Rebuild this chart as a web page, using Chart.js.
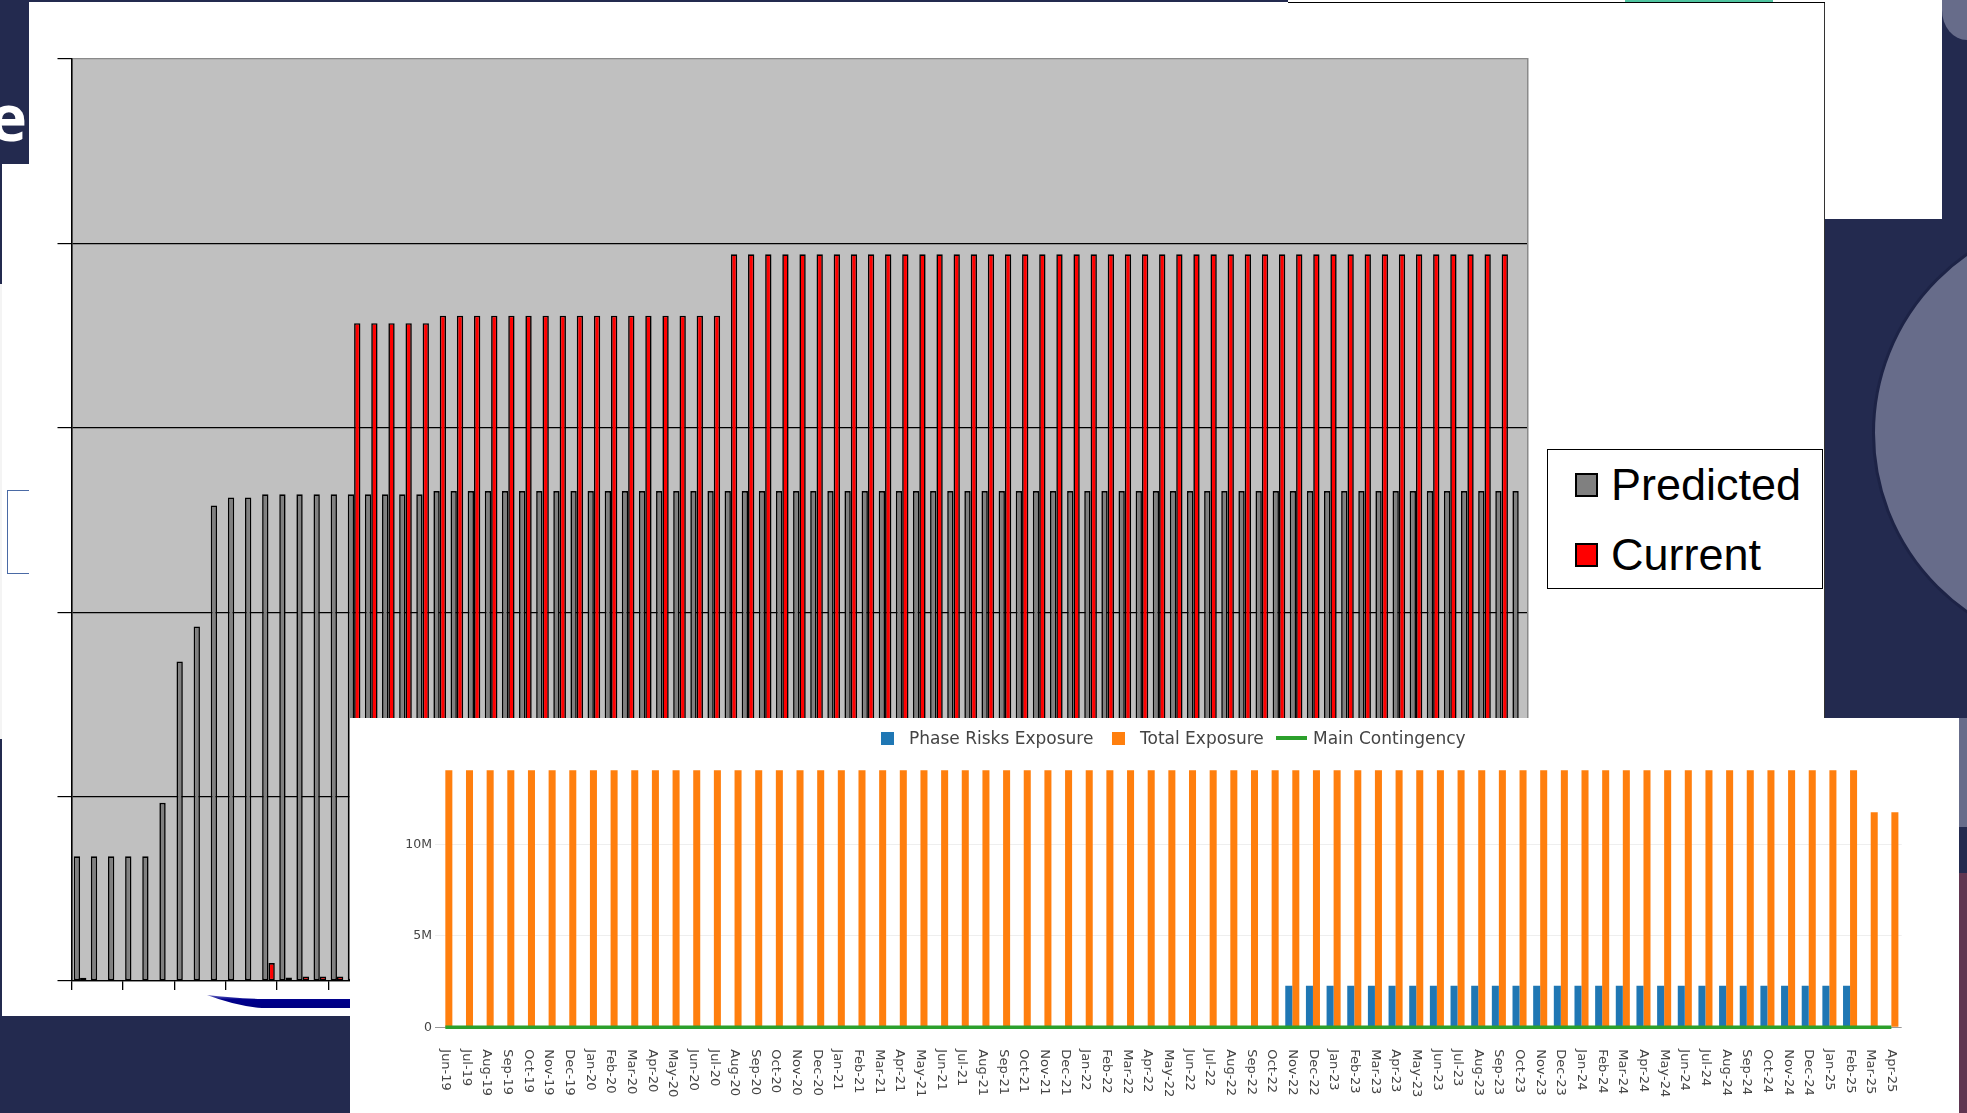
<!DOCTYPE html>
<html>
<head>
<meta charset="utf-8">
<script src="https://cdn.jsdelivr.net/npm/chart.js@4.4.1/dist/chart.umd.min.js"></script>
<style>
  html, body { margin: 0; padding: 0; }
  body { width: 1967px; height: 1113px; background: #232a4f; position: relative; overflow: hidden; }
  .abs { position: absolute; }
</style>
</head>
<body>
<script>
// ---------------- DATA ----------------
// Chart 1 (Predicted vs Current) – no visible category or value labels
const periods = ['P1','P2','P3','P4','P5','P6','P7','P8','P9','P10','P11','P12','P13','P14','P15','P16','P17','P18','P19','P20',
  'P21','P22','P23','P24','P25','P26','P27','P28','P29','P30','P31','P32','P33','P34','P35','P36','P37','P38','P39','P40',
  'P41','P42','P43','P44','P45','P46','P47','P48','P49','P50','P51','P52','P53','P54','P55','P56','P57','P58','P59','P60',
  'P61','P62','P63','P64','P65','P66','P67','P68','P69','P70','P71','P72','P73','P74','P75','P76','P77','P78','P79','P80',
  'P81','P82','P83','P84','P85'];
const predicted = [0.676,0.676,0.676,0.676,0.676,0.966,1.733,1.923,2.579,2.622,2.622,
  2.639,2.639,2.639,2.639,2.639,2.639,2.639,2.639,2.639,2.639,
  2.657,2.657,2.657,2.657,2.657,2.657,2.657,2.657,
  2.657,2.657,2.657,2.657,2.657,2.657,2.657,2.657,
  2.657,2.657,2.657,2.657,2.657,2.657,2.657,2.657,
  2.657,2.657,2.657,2.657,2.657,2.657,2.657,2.657,
  2.657,2.657,2.657,2.657,2.657,2.657,2.657,2.657,
  2.657,2.657,2.657,2.657,2.657,2.657,2.657,2.657,
  2.657,2.657,2.657,2.657,2.657,2.657,2.657,2.657,
  2.657,2.657,2.657,2.657,2.657,2.657,2.657,2.657];
const current = [0.017,null,null,null,null,null,null,null,null,null,null,
  0.097,0.019,0.025,0.025,0.025,
  3.567,3.567,3.567,3.567,3.567,
  3.608,3.608,3.608,3.608,3.608,3.608,3.608,3.608,3.608,3.608,3.608,3.608,3.608,3.608,3.608,3.608,3.608,
  3.941,3.941,3.941,3.941,3.941,3.941,3.941,3.941,3.941,3.941,
  3.941,3.941,3.941,3.941,3.941,3.941,3.941,3.941,3.941,3.941,
  3.941,3.941,3.941,3.941,3.941,3.941,3.941,3.941,3.941,3.941,
  3.941,3.941,3.941,3.941,3.941,3.941,3.941,3.941,3.941,3.941,
  3.941,3.941,3.941,3.941,3.941,3.941,
  null];
const chart1Legend = ['Predicted', 'Current'];

// Chart 2 (exposure over months)
const months = ['Jun-19','Jul-19','Aug-19','Sep-19','Oct-19','Nov-19','Dec-19',
  'Jan-20','Feb-20','Mar-20','Apr-20','May-20','Jun-20','Jul-20','Aug-20','Sep-20','Oct-20','Nov-20','Dec-20',
  'Jan-21','Feb-21','Mar-21','Apr-21','May-21','Jun-21','Jul-21','Aug-21','Sep-21','Oct-21','Nov-21','Dec-21',
  'Jan-22','Feb-22','Mar-22','Apr-22','May-22','Jun-22','Jul-22','Aug-22','Sep-22','Oct-22','Nov-22','Dec-22',
  'Jan-23','Feb-23','Mar-23','Apr-23','May-23','Jun-23','Jul-23','Aug-23','Sep-23','Oct-23','Nov-23','Dec-23',
  'Jan-24','Feb-24','Mar-24','Apr-24','May-24','Jun-24','Jul-24','Aug-24','Sep-24','Oct-24','Nov-24','Dec-24',
  'Jan-25','Feb-25','Mar-25','Apr-25'];
const phaseRisksExposure = [0,0,0,0,0,0,0,
  0,0,0,0,0,0,0,0,0,0,0,0,
  0,0,0,0,0,0,0,0,0,0,0,0,
  0,0,0,0,0,0,0,0,0,0,2280000,2280000,
  2280000,2280000,2280000,2280000,2280000,2280000,2280000,2280000,2280000,2280000,2280000,2280000,
  2280000,2280000,2280000,2280000,2280000,2280000,2280000,2280000,2280000,2280000,2280000,2280000,
  2280000,2280000,0,0];
const totalExposure = [14080000,14080000,14080000,14080000,14080000,14080000,14080000,
  14080000,14080000,14080000,14080000,14080000,14080000,14080000,14080000,14080000,14080000,14080000,14080000,
  14080000,14080000,14080000,14080000,14080000,14080000,14080000,14080000,14080000,14080000,14080000,14080000,
  14080000,14080000,14080000,14080000,14080000,14080000,14080000,14080000,14080000,14080000,14080000,14080000,
  14080000,14080000,14080000,14080000,14080000,14080000,14080000,14080000,14080000,14080000,14080000,14080000,
  14080000,14080000,14080000,14080000,14080000,14080000,14080000,14080000,14080000,14080000,14080000,14080000,
  14080000,14080000,11770000,11770000];
const mainContingency = [0,0,0,0,0,0,0,
  0,0,0,0,0,0,0,0,0,0,0,0,
  0,0,0,0,0,0,0,0,0,0,0,0,
  0,0,0,0,0,0,0,0,0,0,0,0,
  0,0,0,0,0,0,0,0,0,0,0,0,
  0,0,0,0,0,0,0,0,0,0,0,0,
  0,0,0,0];
const chart2Legend = ['Phase Risks Exposure', 'Total Exposure', 'Main Contingency'];
const yTicks2 = [0, 5000000, 10000000];
</script>

<!-- background slide pieces -->
<div class="abs" style="left:1288px;top:0;width:337px;height:3px;background:#fff"></div>
<div class="abs" style="left:1625px;top:0;width:148px;height:3px;background:#4fc4a0"></div>
<div class="abs" style="left:1773px;top:0;width:169px;height:3px;background:#fff"></div>
<div class="abs" style="left:1824px;top:0;width:118px;height:219px;background:#fff"></div>
<div class="abs" style="left:1942px;top:0;width:25px;height:40px;background:#676c8a;border-bottom-left-radius:25px 30px"></div>
<div class="abs" style="left:1872px;top:214px;width:432px;height:432px;border-radius:50%;background:#676c8a;border:3px solid #1d2346"></div>
<div class="abs" style="left:1959px;top:718px;width:8px;height:109px;background:#676c8a"></div>
<div class="abs" style="left:1959px;top:873px;width:8px;height:240px;background:#5f3651"></div>

<!-- left slide fragments -->
<div class="abs" style="left:2px;top:164px;width:27px;height:852px;background:#fff"></div>
<div class="abs" style="left:0px;top:284px;width:2px;height:455px;background:#f4f4f4"></div>
<div class="abs" style="left:7px;top:490px;width:22px;height:84px;box-sizing:border-box;border:1.5px solid #4a6aa5;border-right:none"></div>
<div class="abs" style="left:0;top:0;width:29px;height:164px;background:#232a4f;overflow:hidden">
  <div class="abs" style="right:2px;top:85px;font:bold 64px 'Open Sans';line-height:64px;color:#fff">e</div>
</div>

<!-- chart 1 panel -->
<div class="abs" style="left:29px;top:2px;width:1795px;height:1014px;background:#fff;border-right:1px solid #333"></div>
<div class="abs" style="left:1288px;top:2px;width:537px;height:1px;background:#000"></div>
<canvas id="c1" class="abs" width="1795" height="1012" style="left:29px;top:3px"></canvas>
<div id="leg1" class="abs" style="left:1547px;top:449px;width:276px;height:140px;box-sizing:border-box;border:1.3px solid #000;background:#fff"></div>
<svg class="abs" style="left:0;top:0" width="1967" height="1113">
  <defs><linearGradient id="sw" x1="0" y1="0" x2="0" y2="1"><stop offset="0" stop-color="#6a6ac0"/><stop offset="0.35" stop-color="#00008c"/><stop offset="1" stop-color="#000080"/></linearGradient></defs>
  <path d="M207,995 Q232,998 262,999 L352,999 L352,1008 L262,1008 Q236,1006 207,995 Z" fill="url(#sw)"/>
</svg>

<!-- chart 2 panel -->
<div class="abs" style="left:350px;top:718px;width:1609px;height:395px;background:#fff"></div>
<canvas id="c2" class="abs" width="1609" height="395" style="left:350px;top:718px"></canvas>
<div id="leg2" class="abs" style="left:0;top:0"></div>

<script>
Chart.defaults.animation = false;

// ---- legends (HTML text) ----
(function () {
  const l1 = document.getElementById('leg1');
  const sw1 = ['#808080', '#ff0000'];
  chart1Legend.forEach((t, i) => {
    const sq = document.createElement('div');
    sq.className = 'abs';
    sq.style.cssText = `left:27px;top:${23 + i * 70}px;width:23px;height:24px;box-sizing:border-box;border:2px solid #000;background:${sw1[i]}`;
    l1.appendChild(sq);
    const tx = document.createElement('div');
    tx.className = 'abs';
    tx.style.cssText = `left:63px;top:${12 + i * 70}px;font:45px 'Liberation Sans', Arial, sans-serif;line-height:45px;color:#000;white-space:nowrap`;
    tx.textContent = t;
    l1.appendChild(tx);
  });

  const l2 = document.getElementById('leg2');
  const marks = [
    { x: 881, w: 13, h: 13, c: '#1f77b4', tx: 909 },
    { x: 1112, w: 13, h: 13, c: '#ff7f0e', tx: 1140 },
    { x: 1276, w: 31, h: 4, c: '#2ca02c', tx: 1313 }
  ];
  chart2Legend.forEach((t, i) => {
    const m = marks[i];
    const sq = document.createElement('div');
    sq.className = 'abs';
    sq.style.cssText = `left:${m.x}px;top:${738 - m.h / 2}px;width:${m.w}px;height:${m.h}px;background:${m.c}`;
    l2.appendChild(sq);
    const tx = document.createElement('div');
    tx.className = 'abs';
    tx.style.cssText = `left:${m.tx}px;top:728px;font:17px 'DejaVu Sans';line-height:20px;color:#444;white-space:nowrap`;
    tx.textContent = t;
    l2.appendChild(tx);
  });
})();

// ---- Chart 1 ----
const plotBg = {
  id: 'plotBg',
  beforeDraw(chart, args, opts) {
    const a = chart.chartArea, ctx = chart.ctx;
    ctx.save();
    ctx.fillStyle = opts.color;
    ctx.fillRect(a.left, a.top, a.right - a.left, a.bottom - a.top);
    ctx.restore();
  }
};

new Chart(document.getElementById('c1'), {
  type: 'bar',
  data: {
    labels: periods,
    datasets: [
      { label: chart1Legend[0], data: predicted, backgroundColor: '#808080', borderColor: '#000', borderWidth: 1.6, borderSkipped: false,
        categoryPercentage: 0.74, barPercentage: 1 },
      { label: chart1Legend[1], data: current, backgroundColor: '#ff0000', borderColor: '#000', borderWidth: 1.6, borderSkipped: false,
        categoryPercentage: 0.74, barPercentage: 1 }
    ]
  },
  options: {
    responsive: false,
    layout: { padding: { left: 28.5, right: 296.7, top: 56, bottom: 25 } },
    plugins: { legend: { display: false }, tooltip: { enabled: false }, plotBg: { color: '#c0c0c0' } },
    scales: {
      x: {
        offset: true,
        grid: { offset: true, drawOnChartArea: false, drawTicks: true, tickLength: 9, lineWidth: 1.3,
          color: c => (c.index % 3 === 0 ? '#000' : 'rgba(0,0,0,0)') },
        border: { display: true, color: '#000', width: 1.3 },
        ticks: { display: false },
        afterFit: s => { s.height = 9; }
      },
      y: {
        min: 0, max: 5,
        ticks: { display: false, stepSize: 1 },
        grid: { drawTicks: true, tickLength: 14, lineWidth: 1.2, tickColor: '#000',
          color: c => (c.tick && c.tick.value === 5 ? '#8a8a8a' : '#000') },
        border: { display: true, color: '#000', width: 1.6 },
        afterFit: s => { s.width = 14; }
      },
      yr: {
        position: 'right', min: 0, max: 5,
        ticks: { display: false },
        grid: { drawOnChartArea: false, drawTicks: false },
        border: { display: true, color: '#8a8a8a', width: 1.5 },
        afterFit: s => { s.width = 0; }
      }
    }
  },
  plugins: [plotBg]
});

// ---- Chart 2 ----
const rotatedMonthLabels = {
  id: 'rotatedMonthLabels',
  afterDraw(chart) {
    const xs = chart.scales.x, ctx = chart.ctx;
    ctx.save();
    ctx.font = "13px 'DejaVu Sans'";
    ctx.fillStyle = '#444';
    ctx.textAlign = 'left';
    ctx.textBaseline = 'middle';
    chart.data.labels.forEach((m, i) => {
      const x = xs.getPixelForValue(i);
      ctx.save();
      ctx.translate(x, chart.chartArea.bottom + 22);
      ctx.rotate(Math.PI / 2);
      ctx.fillText(m, 0, 0);
      ctx.restore();
    });
    ctx.restore();
  }
};

new Chart(document.getElementById('c2'), {
  type: 'bar',
  data: {
    labels: months,
    datasets: [
      { label: chart2Legend[0], data: phaseRisksExposure, backgroundColor: '#1f77b4', borderWidth: 0,
        categoryPercentage: 0.68, barPercentage: 1, order: 1 },
      { label: chart2Legend[1], data: totalExposure, backgroundColor: '#ff7f0e', borderWidth: 0,
        categoryPercentage: 0.68, barPercentage: 1, order: 1 },
      { type: 'line', label: chart2Legend[2], data: mainContingency, borderColor: '#2ca02c', borderWidth: 3.5,
        pointRadius: 0, tension: 0, fill: false, order: 0, clip: false }
    ]
  },
  options: {
    responsive: false,
    layout: { padding: { left: 35, right: 57.3, top: 39, bottom: 85.7 } },
    plugins: { legend: { display: false }, tooltip: { enabled: false } },
    scales: {
      x: {
        offset: true,
        grid: { display: false },
        border: { display: false },
        ticks: { display: false },
        afterFit: s => { s.height = 0; }
      },
      y: {
        min: 0, max: 14800000,
        afterBuildTicks: s => { s.ticks = yTicks2.map(v => ({ value: v })); },
        ticks: {
          color: '#444', padding: 3,
          font: { family: 'DejaVu Sans', size: 12.5 },
          callback: v => (v === 0 ? '0' : (v / 1000000) + 'M')
        },
        grid: { drawTicks: false, lineWidth: 1, color: c => (c.tick && c.tick.value === 0 ? '#999' : '#eeeeee') },
        border: { display: false },
        afterFit: s => { s.width = 50; }
      }
    }
  },
  plugins: [rotatedMonthLabels]
});
</script>
</body>
</html>
